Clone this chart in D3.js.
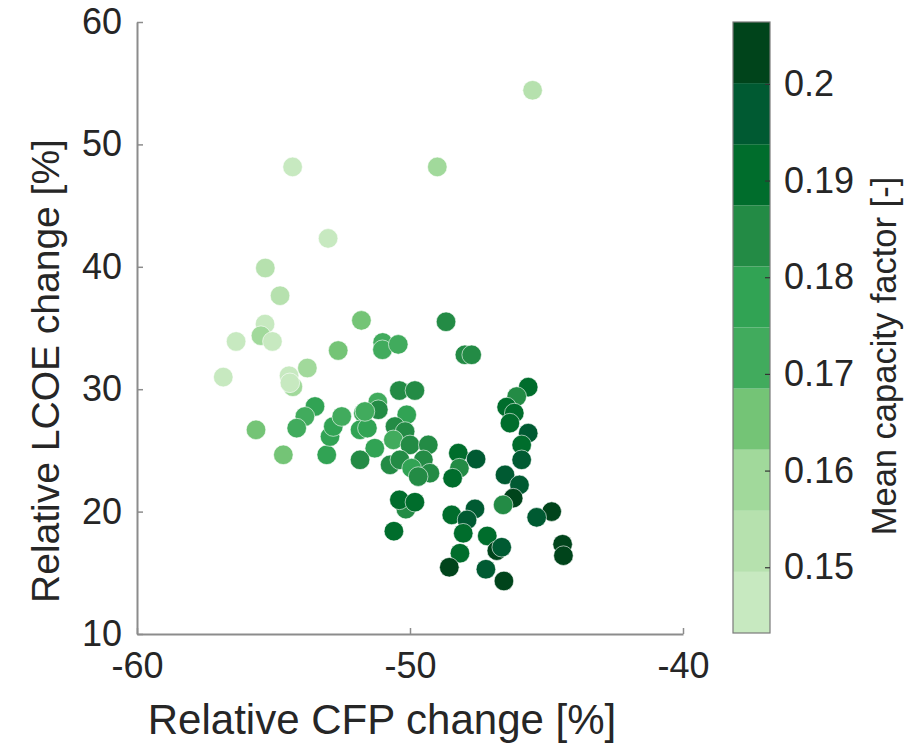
<!DOCTYPE html>
<html lang="en">
<head>
<meta charset="UTF-8">
<title>LCOE vs CFP change</title>
<script src="https://d3js.org/d3.v7.min.js"></script>
<style>
  body { margin: 0; background: #fff; }
  text { font-family: "Liberation Sans", Arial, sans-serif; fill: #262626; }
</style>
</head>
<body>
<svg id="chart" width="916" height="745"></svg>
<script>
// data
const cfpChange = [
  -54.30, -49.00, -45.51, -53.00, -55.30, -54.76, -51.78, -55.31, -55.46, -55.04,
  -56.37, -51.00, -51.01, -50.43, -52.63, -56.84, -53.76, -54.43, -54.29, -54.40,
  -53.48, -53.85, -54.15, -55.64, -54.64, -53.05, -52.93, -52.81, -52.50, -51.71,
  -51.83, -51.56, -51.29, -51.83, -51.18, -51.16, -51.65, -50.39, -49.82, -50.12,
  -50.55, -50.18, -50.61, -50.00, -49.33, -50.73, -50.37, -49.51, -49.94, -49.27,
  -49.70, -50.15, -50.39, -49.82, -50.59, -48.68, -47.99, -47.74, -45.67, -46.09,
  -46.46, -46.18, -46.34, -45.67, -45.91, -45.91, -46.52, -45.99, -46.22, -46.59,
  -44.81, -45.36, -44.41, -44.38, -48.23, -47.58, -48.19, -48.44, -48.47, -47.62,
  -47.91, -48.05, -47.17, -46.82, -46.64, -48.17, -48.56, -47.22, -46.56
];
const lcoeChange = [
  48.16, 48.16, 54.42, 42.32, 39.90, 37.64, 35.62, 35.32, 34.37, 33.90,
  33.90, 33.82, 33.22, 33.66, 33.16, 30.99, 31.73, 31.10, 30.20, 30.52,
  28.59, 27.77, 26.82, 26.68, 24.64, 24.64, 26.13, 26.95, 27.77, 28.05,
  26.68, 26.82, 25.18, 24.23, 28.95, 28.32, 28.18, 29.89, 29.89, 27.91,
  26.95, 26.54, 25.86, 25.45, 25.45, 23.82, 24.23, 24.23, 23.55, 23.14,
  22.86, 20.20, 20.96, 20.77, 18.40, 35.51, 32.81, 32.81, 30.17, 29.40,
  28.54, 28.05, 27.23, 26.41, 25.45, 24.23, 23.00, 22.18, 21.10, 20.55,
  20.00, 19.53, 17.33, 16.40, 24.78, 24.29, 23.55, 22.73, 19.73, 20.22,
  19.32, 18.23, 18.01, 16.81, 17.09, 16.60, 15.45, 15.29, 14.33
];
const capacityFactor = [
  0.146, 0.159, 0.153, 0.146, 0.153, 0.153, 0.165, 0.146, 0.159, 0.146,
  0.146, 0.172, 0.172, 0.172, 0.165, 0.146, 0.159, 0.146, 0.159, 0.146,
  0.178, 0.172, 0.172, 0.165, 0.165, 0.178, 0.178, 0.178, 0.172, 0.172,
  0.178, 0.178, 0.178, 0.184, 0.172, 0.184, 0.172, 0.184, 0.184, 0.178,
  0.184, 0.184, 0.172, 0.184, 0.184, 0.184, 0.184, 0.184, 0.178, 0.184,
  0.184, 0.184, 0.191, 0.191, 0.191, 0.184, 0.184, 0.184, 0.191, 0.184,
  0.191, 0.191, 0.191, 0.197, 0.191, 0.197, 0.197, 0.197, 0.203, 0.184,
  0.203, 0.197, 0.203, 0.203, 0.191, 0.197, 0.184, 0.191, 0.191, 0.197,
  0.197, 0.191, 0.191, 0.203, 0.197, 0.191, 0.203, 0.197, 0.203
];
const xTicks = [-60, -50, -40];
const yTicks = [10, 20, 30, 40, 50, 60];
const cbTicks = [0.15, 0.16, 0.17, 0.18, 0.19, 0.2];
const cbRange = [0.1432, 0.2064];
const bandColors = ["#c7e9c0", "#b6e1ae", "#a1d99b", "#74c476", "#41ab5d",
                    "#31a354", "#238b45", "#006d2c", "#005a32", "#00441b"];

const svg = d3.select("#chart");

const x = d3.scaleLinear().domain([-60, -40]).range([137, 683]);
const y = d3.scaleLinear().domain([10, 60]).range([634, 22]);
const cbY = d3.scaleLinear().domain(cbRange).range([633, 22]);
const color = d3.scaleQuantize().domain(cbRange).range(bandColors);

// axes (box off, ticks inward); plain hyphen for negatives like the original
const xAxis = svg.append("g")
  .attr("transform", "translate(0,634)")
  .call(d3.axisBottom(x).tickValues(xTicks).tickFormat(d => String(d))
    .tickSizeInner(-6).tickSizeOuter(0).tickPadding(13));
const yAxis = svg.append("g")
  .attr("transform", "translate(137,0)")
  .call(d3.axisLeft(y).tickValues(yTicks).tickFormat(d => String(d))
    .tickSizeInner(-6).tickSizeOuter(0).tickPadding(15));

[xAxis, yAxis].forEach(g => {
  g.select(".domain").attr("stroke", "#8c8c8c").attr("stroke-width", 2);
  g.selectAll(".tick line").attr("stroke", "#8c8c8c").attr("stroke-width", 1.5);
  g.selectAll(".tick text").attr("font-size", 36).attr("fill", "#262626")
    .attr("font-family", "Liberation Sans, Arial, sans-serif");
});
xAxis.selectAll(".tick text").attr("dy", "0.85em");

// points
const pts = cfpChange.map((v, i) => ({ x: v, y: lcoeChange[i], c: capacityFactor[i] }));
svg.append("g").selectAll("circle")
  .data(pts)
  .join("circle")
  .attr("cx", d => x(d.x))
  .attr("cy", d => y(d.y))
  .attr("r", 9.8)
  .attr("fill", d => color(d.c))
  .attr("stroke", "#ffffff")
  .attr("stroke-width", 0.6);

// axis labels
svg.append("text")
  .attr("x", 382).attr("y", 734)
  .attr("text-anchor", "middle")
  .attr("font-size", 42)
  .text("Relative CFP change [%]");
svg.append("text")
  .attr("transform", "translate(59,371) rotate(-90)")
  .attr("text-anchor", "middle")
  .attr("font-size", 39)
  .text("Relative LCOE change [%]");

// colorbar
const cb = svg.append("g");
const edges = d3.range(bandColors.length + 1).map(i => cbRange[0] + i * (cbRange[1] - cbRange[0]) / bandColors.length);
cb.selectAll("rect.band")
  .data(bandColors)
  .join("rect")
  .attr("class", "band")
  .attr("x", 733)
  .attr("width", 37)
  .attr("y", (d, i) => cbY(edges[i + 1]))
  .attr("height", (d, i) => cbY(edges[i]) - cbY(edges[i + 1]))
  .attr("fill", d => d);
cb.append("rect")
  .attr("x", 733).attr("y", 22).attr("width", 37).attr("height", 611)
  .attr("fill", "none").attr("stroke", "#7a7a7a").attr("stroke-width", 1.2);

const cbAxis = cb.append("g")
  .attr("transform", "translate(770,0)")
  .call(d3.axisRight(cbY).tickValues(cbTicks).tickFormat(d3.format("~g"))
    .tickSizeInner(-5).tickSizeOuter(0).tickPadding(14));
cbAxis.select(".domain").remove();
cbAxis.selectAll(".tick line").attr("stroke", "#333").attr("stroke-width", 1.2);
cbAxis.selectAll(".tick text").attr("font-size", 36).attr("fill", "#262626")
  .attr("font-family", "Liberation Sans, Arial, sans-serif");

svg.append("text")
  .attr("transform", "translate(896,356) rotate(-90)")
  .attr("text-anchor", "middle")
  .attr("font-size", 34.5)
  .text("Mean capacity factor [-]");
</script>
</body>
</html>
